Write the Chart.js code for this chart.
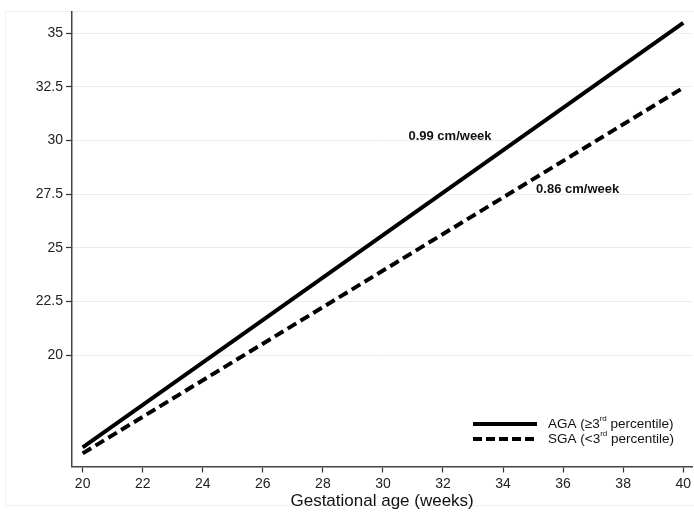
<!DOCTYPE html>
<html>
<head>
<meta charset="utf-8">
<script src="https://cdn.jsdelivr.net/npm/chart.js@4/dist/chart.umd.min.js"></script>
<style>
  html, body { margin: 0; padding: 0; background: #fff; }
  canvas { display: block; }
</style>
</head>
<body>
<canvas id="c" width="694" height="512"></canvas>
<script>
// ---- data ----
const weeks = [20, 40];
const agaLength = [15.70, 35.47];
const sgaLength = [15.42, 32.45];
const xTickValues = [20, 22, 24, 26, 28, 30, 32, 34, 36, 38, 40];
const yTickValues = [20, 22.5, 25, 27.5, 30, 32.5, 35];
const slopeLabels = ['0.99 cm/week', '0.86 cm/week'];
const slopeLabelX = [30.85, 35.1];
const slopeLabelY = [30.2, 27.7];
const legendNames = ['AGA (', 'SGA ('];
const legendSymbols = ['\u2265', '<'];
const xTitle = 'Gestational age (weeks)';

const FONT = "'Liberation Sans', Arial, Helvetica, sans-serif";

const toPoints = (xs, ys) => xs.map((x, i) => ({ x: x, y: ys[i] }));

const extras = {
  id: 'extras',
  beforeDraw(chart) {
    const ctx = chart.ctx;
    ctx.save();
    ctx.strokeStyle = '#f0f0f0';
    ctx.lineWidth = 1;
    ctx.strokeRect(5.5, 11.5, 700, 494);
    ctx.restore();
  },
  afterDatasetsDraw(chart) {
    const ctx = chart.ctx;
    const xs = chart.scales.x, ys = chart.scales.y;
    ctx.save();
    // slope annotations
    ctx.fillStyle = '#111';
    ctx.font = 'bold 13px ' + FONT;
    ctx.textAlign = 'left';
    ctx.textBaseline = 'middle';
    slopeLabels.forEach((t, i) => {
      ctx.fillText(t, xs.getPixelForValue(slopeLabelX[i]), ys.getPixelForValue(slopeLabelY[i]));
    });
    // legend
    const lx0 = 473, lx1 = 537, tx = 548;
    const rowsY = [424, 439];
    rowsY.forEach((y, i) => {
      ctx.beginPath();
      ctx.strokeStyle = '#000';
      ctx.lineWidth = 4;
      ctx.lineCap = 'butt';
      ctx.setLineDash(i === 0 ? [] : [9, 4]);
      ctx.moveTo(lx0, y);
      ctx.lineTo(lx1, y);
      ctx.stroke();
      ctx.setLineDash([]);
      ctx.fillStyle = '#111';
      ctx.textBaseline = 'middle';
      ctx.font = '13.5px ' + FONT;
      let x = tx;
      const parts = [legendNames[i], legendSymbols[i], '3'];
      parts.forEach(p => { ctx.fillText(p, x, y); x += ctx.measureText(p).width; });
      ctx.font = '8px ' + FONT;
      ctx.fillText('rd', x, y - 5);
      x += ctx.measureText('rd').width;
      ctx.font = '13.5px ' + FONT;
      ctx.fillText(' percentile)', x, y);
    });
    ctx.restore();
  }
};

new Chart(document.getElementById('c'), {
  type: 'line',
  data: {
    datasets: [
      {
        label: 'AGA',
        data: toPoints(weeks, agaLength),
        borderColor: '#000',
        borderWidth: 4,
        pointRadius: 0,
        fill: false
      },
      {
        label: 'SGA',
        data: toPoints(weeks, sgaLength),
        borderColor: '#000',
        borderWidth: 4,
        borderDash: [10, 5],
        pointRadius: 0,
        fill: false
      }
    ]
  },
  options: {
    responsive: false,
    animation: false,
    layout: { padding: { top: 12, right: 0, left: 0, bottom: 0 } },
    plugins: { legend: { display: false }, tooltip: { enabled: false } },
    scales: {
      x: {
        type: 'linear',
        min: 19.645,
        max: 40.3,
        afterBuildTicks: s => { s.ticks = xTickValues.map(v => ({ value: v })); },
        afterFit: s => { s.height = 45.5; },
        ticks: {
          color: '#222',
          font: { family: FONT, size: 14 },
          padding: 3,
          maxRotation: 0,
          autoSkip: false,
          callback: v => String(v)
        },
        grid: { drawOnChartArea: false, tickLength: 6, tickColor: '#333', tickWidth: 1.2 },
        border: { color: '#444', width: 1.5 },
        title: {
          display: true,
          text: xTitle,
          color: '#111',
          font: { family: FONT, size: 17 },
          padding: { top: 0, bottom: 0 }
        }
      },
      y: {
        type: 'linear',
        min: 14.81,
        max: 35.98,
        afterBuildTicks: s => { s.ticks = yTickValues.map(v => ({ value: v })); },
        afterFit: s => { s.width = 72; },
        ticks: {
          color: '#222',
          font: { family: FONT, size: 14 },
          padding: 3,
          autoSkip: false,
          callback: v => String(v)
        },
        grid: { color: '#ebebeb', lineWidth: 1, tickLength: 6, tickColor: '#333', tickWidth: 1.2 },
        border: { color: '#444', width: 1.5 }
      }
    }
  },
  plugins: [extras]
});
</script>
</body>
</html>
